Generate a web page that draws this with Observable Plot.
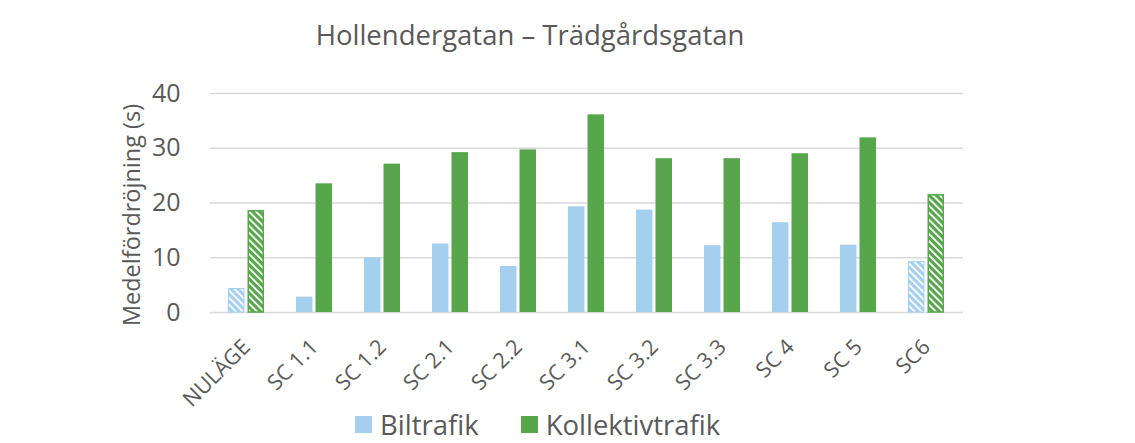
<!DOCTYPE html>
<html>
<head>
<meta charset="utf-8">
<script src="https://cdn.jsdelivr.net/npm/d3@7"></script>
<script src="https://cdn.jsdelivr.net/npm/@observablehq/plot@0.6"></script>
<style>
  html, body { margin: 0; padding: 0; background: #fff; }
  body { width: 1135px; height: 443px; position: relative; overflow: hidden; font-family: "Open Sans", sans-serif; color: #595959; }
  #title { position: absolute; left: 0; width: 1060px; top: 18px; text-align: center; font-size: 27.5px; line-height: 1.2; color: #595959; }
  #chart { position: absolute; left: 0; top: 70px; }
  #legend { position: absolute; left: 355px; top: 408px; display: flex; align-items: center; font-size: 27.5px; line-height: 1.2; color: #595959; }
  .sw { display: inline-block; width: 17px; height: 17px; margin-right: 8px; }
  .item { display: flex; align-items: center; margin-right: 42px; }
</style>
</head>
<body>
<div id="title">Hollendergatan – Trädgårdsgatan</div>
<div id="chart"></div>
<div id="legend"></div>
<script>
const categories = ["NULÄGE", "SC 1.1", "SC 1.2", "SC 2.1", "SC 2.2", "SC 3.1", "SC 3.2", "SC 3.3", "SC 4", "SC 5", "SC6"];
const biltrafik = [4.3, 2.8, 10.0, 12.5, 8.4, 19.3, 18.7, 12.2, 16.4, 12.3, 9.2];
const kollektivtrafik = [18.5, 23.5, 27.1, 29.2, 29.7, 36.1, 28.1, 28.1, 29.0, 31.9, 21.4];
const hatchedCategories = ["NULÄGE", "SC6"];
const seriesNames = ["Biltrafik", "Kollektivtrafik"];
const seriesColors = ["#a5cfef", "#57a64c"];
const yTicks = [0, 10, 20, 30, 40];

const rows = [];
categories.forEach((c, i) => {
  rows.push({category: c, series: seriesNames[0], value: biltrafik[i], hatched: hatchedCategories.includes(c)});
  rows.push({category: c, series: seriesNames[1], value: kollektivtrafik[i], hatched: hatchedCategories.includes(c)});
});

const inset = 19.5;
const bil = rows.filter(d => d.series === seriesNames[0]);
const kol = rows.filter(d => d.series === seriesNames[1]);

const plot = Plot.plot({
  width: 1135,
  height: 360,
  marginLeft: 210,
  marginRight: 172,
  marginTop: 23,
  marginBottom: 118,
  style: {fontFamily: "Open Sans, sans-serif", color: "#595959", background: "transparent", overflow: "visible"},
  x: {domain: categories, paddingInner: 0.47, paddingOuter: 0.235, label: null},
  y: {domain: [0, 40], label: null},
  marks: [
    Plot.ruleY(yTicks, {stroke: "#d9d9d9", strokeWidth: 1.5}),
    Plot.barY(bil.filter(d => !d.hatched), {x: "category", y: "value", fill: seriesColors[0], insetRight: inset}),
    Plot.barY(bil.filter(d => d.hatched), {x: "category", y: "value", fill: "url(#hatchBlue)", stroke: seriesColors[0], strokeWidth: 1, insetRight: inset + 0.5, insetLeft: 0.5}),
    Plot.barY(kol.filter(d => !d.hatched), {x: "category", y: "value", fill: seriesColors[1], insetLeft: inset}),
    Plot.barY(kol.filter(d => d.hatched), {x: "category", y: "value", fill: "url(#hatchGreen)", stroke: seriesColors[1], strokeWidth: 1.5, insetLeft: inset + 0.75, insetRight: 0.75}),
    Plot.axisY({ticks: yTicks, tickSize: 0, tickPadding: 30, fontSize: 25, label: null}),
    Plot.axisX({tickSize: 0, tickRotate: -45, tickPadding: 31, fontSize: 21.5, label: null, textAnchor: "end"}),
    Plot.text(["Medelfördröjning (s)"], {frameAnchor: "left", textAnchor: "middle", rotate: -90, dx: -78, dy: 12, fontSize: 23.5, fill: "#595959"})
  ]
});

const defs = `
<pattern id="hatchBlue" patternUnits="userSpaceOnUse" width="5" height="5" patternTransform="rotate(-45)">
  <rect width="5" height="5" fill="${seriesColors[0]}"></rect>
  <rect x="0" y="0" width="1.8" height="5" fill="#ffffff"></rect>
</pattern>
<pattern id="hatchGreen" patternUnits="userSpaceOnUse" width="5" height="5" patternTransform="rotate(-45)">
  <rect width="5" height="5" fill="${seriesColors[1]}"></rect>
  <rect x="0" y="0" width="1.8" height="5" fill="#ffffff"></rect>
</pattern>`;
const defsEl = document.createElementNS("http://www.w3.org/2000/svg", "defs");
defsEl.innerHTML = defs;
plot.insertBefore(defsEl, plot.firstChild);
document.getElementById("chart").appendChild(plot);

const legend = document.getElementById("legend");
seriesNames.forEach((n, i) => {
  const item = document.createElement("div");
  item.className = "item";
  const sw = document.createElement("span");
  sw.className = "sw";
  sw.style.background = seriesColors[i];
  const t = document.createElement("span");
  t.textContent = n;
  item.appendChild(sw);
  item.appendChild(t);
  legend.appendChild(item);
});
</script>
</body>
</html>
